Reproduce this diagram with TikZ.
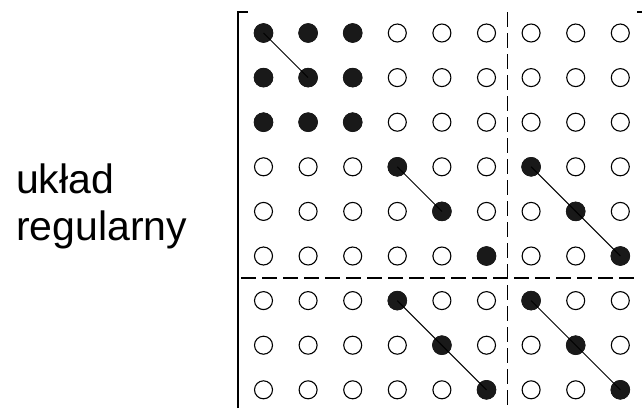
\documentclass[tikz,border=0pt]{standalone}
\usepackage{fontspec}
\setmainfont{Liberation Sans}
\begin{document}
\begin{tikzpicture}[x=1pt,y=-1pt,
  opendot/.style={circle,draw=black,line width=1.1pt,fill=white,minimum size=18pt,inner sep=0pt},
  fulldot/.style={circle,draw=black!90,line width=0.6pt,fill=black!90,minimum size=19pt,inner sep=0pt},
  link/.style={line width=1pt,black},
  bracket/.style={line width=2pt,black},
  divider/.style={line width=1.2pt,black,dash pattern=on 15pt off 6pt},
  lbl/.style={font=\fontsize{41}{47}\selectfont,anchor=base west,inner sep=0pt}]
\useasboundingbox (0,0) rectangle (642,408);
% dividers
\coordinate (vt) at (507.5,12);
\coordinate (vb) at (507.5,408);
\coordinate (hl) at (241,278);
\coordinate (hr) at (637,278);
\draw[divider] (vt) -- (vb);
\draw[divider] (hl) -- (hr);
% grid of dots
\foreach \r in {1,...,9}{
  \foreach \c in {1,...,9}{
    \pgfmathsetmacro{\xx}{263.5+(\c-1)*44.6}
    \pgfmathsetmacro{\yy}{33+(\r-1)*44.6}
    \node[opendot] (d\r\c) at (\xx,\yy) {};
  }
}
% filled dots
\foreach \r/\c in {1/1,1/2,1/3,2/1,2/2,2/3,3/1,3/2,3/3,
  4/4,5/5,6/6,4/7,5/8,6/9,7/4,8/5,9/6,7/7,8/8,9/9}{
  \node[fulldot] (f\r\c) at (d\r\c) {};
}
% links
\draw[link] (f11.center) -- (f22.center);
\draw[link] (f44.center) -- (f55.center);
\draw[link] (f47.center) -- (f58.center) -- (f69.center);
\draw[link] (f74.center) -- (f85.center) -- (f96.center);
\draw[link] (f77.center) -- (f88.center) -- (f99.center);
% brackets
\coordinate (lb) at (237.5,408);
\coordinate (lt) at (237.5,12);
\coordinate (ltt) at (248,12);
\draw[bracket] (lb) -- (lt) -- (ltt);
\coordinate (rt) at (637,12);
\coordinate (rtt) at (643,12);
\draw[bracket] (rt) -- (rtt);
% label
\node[lbl] (l1) at (16,193) {układ};
\node[lbl] (l2) at (16,240) {regularny};
\end{tikzpicture}
\end{document}
